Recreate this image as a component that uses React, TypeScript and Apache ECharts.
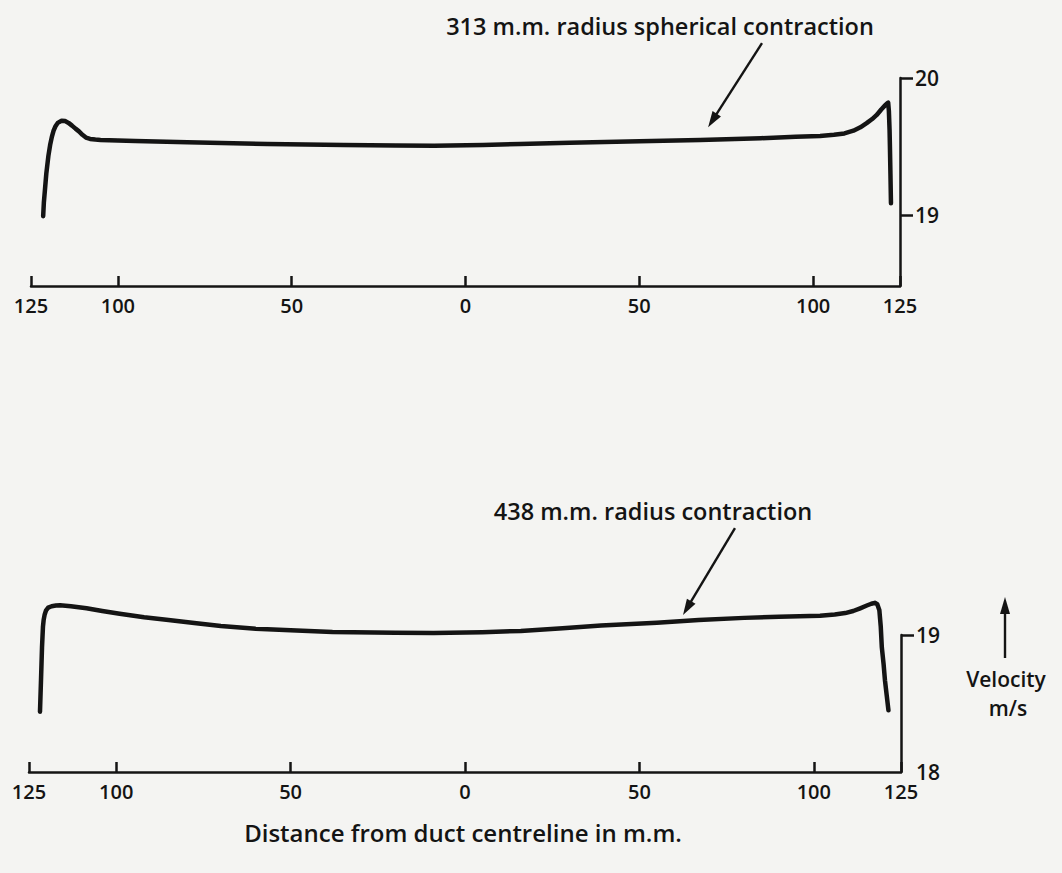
import React, { useEffect, useRef } from "react";
import * as echarts from "echarts";

const X_TICKS = [-125, -100, -50, 0, 50, 100, 125];
const TOP_Y_TICKS = [19, 20];
const BOTTOM_Y_TICKS = [18, 19];
const BOTTOM_Y_TICK_MARKS = [19];

const TOP_X = [-121.5, -121.3, -121.0, -120.6, -120.0, -119.5, -119.0, -118.5, -118.0, -117.3, -116.2, -115.2, -114.2, -113.2, -112.2, -111.2, -110.2, -109.2, -108.0, -106.5, -105, -95, -80, -57, -35, -20, -9, 5, 15.7, 30, 50, 67.5, 85, 95, 102, 106, 109, 111.6, 113.6, 115.4, 117, 118.3, 119.6, 120.7, 121.3, 121.6, 121.8, 122.0, 122.1, 122.25, 122.4];
const TOP_V = [18.99, 19.09, 19.18, 19.30, 19.43, 19.51, 19.57, 19.615, 19.645, 19.672, 19.688, 19.685, 19.672, 19.652, 19.63, 19.61, 19.585, 19.565, 19.555, 19.55, 19.547, 19.54, 19.53, 19.518, 19.51, 19.506, 19.504, 19.51, 19.518, 19.526, 19.537, 19.547, 19.56, 19.57, 19.577, 19.585, 19.595, 19.615, 19.64, 19.67, 19.70, 19.73, 19.77, 19.80, 19.815, 19.82, 19.76, 19.62, 19.5, 19.3, 19.085];

const BOT_X = [-121.85, -121.56, -121.27, -121.0, -120.8, -120.5, -120.1, -119.5, -118.5, -117.3, -116.1, -113, -108.5, -104, -99, -92, -85, -77, -70, -60, -50, -38, -20, -9, 5, 16, 28, 39, 55, 67, 80, 90, 101.8, 106, 109, 111.3, 113.3, 115.2, 116.5, 117.5, 118.2, 118.8, 119.2, 119.5, 120.0, 120.4, 120.9, 121.4];
const BOT_V = [18.44, 18.67, 18.91, 19.06, 19.11, 19.15, 19.18, 19.2, 19.21, 19.215, 19.217, 19.21, 19.195, 19.175, 19.155, 19.13, 19.11, 19.085, 19.065, 19.045, 19.035, 19.022, 19.017, 19.015, 19.02, 19.03, 19.05, 19.07, 19.09, 19.11, 19.125, 19.133, 19.14, 19.15, 19.16, 19.175, 19.195, 19.215, 19.228, 19.235, 19.225, 19.18, 19.06, 18.91, 18.79, 18.67, 18.56, 18.45];

const TOP_TITLE = "313 m.m. radius spherical contraction";
const BOT_TITLE = "438 m.m. radius contraction";
const X_TITLE = "Distance from duct centreline in m.m.";
const Y_TITLE = ["Velocity", "m/s"];
const TOP_ARROW = [[85.3, 20.255], [69.8, 19.64]];
const BOT_ARROW = [[77.4, 19.78], [62.5, 19.146]];

const INK = "#141414";
const BG = "#f4f4f2";
const FONT = "'Open Sans', 'DejaVu Sans', sans-serif";

function xAxisCfg(gridIndex: number) {
  return {
    type: "value",
    gridIndex,
    min: -125,
    max: 125,
    splitLine: { show: false },
    axisLine: { show: true, onZero: false, lineStyle: { color: INK, width: 2.5 } },
    axisTick: { show: true, inside: true, length: 10, customValues: X_TICKS, lineStyle: { color: INK, width: 2.5 } },
    axisLabel: {
      customValues: X_TICKS,
      formatter: (v: number) => String(Math.abs(v)),
      color: INK,
      fontFamily: FONT,
      fontWeight: 600,
      fontSize: 20,
      margin: 9,
    },
  };
}

function yAxisCfg(gridIndex: number, min: number, max: number, labels: number[], ticks: number[]) {
  return {
    type: "value",
    gridIndex,
    position: "right",
    min,
    max,
    splitLine: { show: false },
    axisLine: { show: true, onZero: false, lineStyle: { color: INK, width: 2.5 } },
    axisTick: { show: true, inside: false, length: 13, customValues: ticks, lineStyle: { color: INK, width: 2.5 } },
    axisLabel: {
      customValues: labels,
      color: INK,
      fontFamily: FONT,
      fontWeight: 600,
      fontSize: 21,
      margin: 15,
    },
  };
}

function zip(xs: number[], ys: number[]) {
  return xs.map((x, i) => [x, ys[i]]);
}

function arrow(p0: number[], p1: number[], head = 16, halfW = 5) {
  const dx = p1[0] - p0[0];
  const dy = p1[1] - p0[1];
  const L = Math.sqrt(dx * dx + dy * dy);
  const ux = dx / L, uy = dy / L;
  const bx = p1[0] - ux * head, by = p1[1] - uy * head;
  const nx = -uy, ny = ux;
  return [
    { type: "line", shape: { x1: p0[0], y1: p0[1], x2: bx + ux * 2, y2: by + uy * 2 }, style: { stroke: INK, lineWidth: 2.4 } },
    {
      type: "polygon",
      shape: { points: [[p1[0], p1[1]], [bx + nx * halfW, by + ny * halfW], [bx - nx * halfW, by - ny * halfW]] },
      style: { fill: INK },
    },
  ];
}

export default function App() {
  const ref = useRef<HTMLDivElement>(null);
  useEffect(() => {
    document.body.style.margin = "0";
    document.body.style.background = BG;
    const chart = echarts.init(ref.current!, null, { renderer: "svg" });
    const lineSeries = (idx: number, xs: number[], vs: number[]) => ({
      type: "line",
      xAxisIndex: idx,
      yAxisIndex: idx,
      data: zip(xs, vs),
      showSymbol: false,
      smooth: false,
      clip: false,
      lineStyle: { color: INK, width: 4.5, join: "round", cap: "round" },
    });
    chart.setOption({
      animation: false,
      backgroundColor: BG,
      grid: [
        { left: 31, top: 78, width: 869, height: 208 },
        { left: 29, top: 635, width: 872, height: 137 },
      ],
      xAxis: [xAxisCfg(0), xAxisCfg(1)],
      yAxis: [
        yAxisCfg(0, 18.48, 20, TOP_Y_TICKS, TOP_Y_TICKS),
        yAxisCfg(1, 18, 19, BOTTOM_Y_TICKS, BOTTOM_Y_TICK_MARKS),
      ],
      series: [lineSeries(0, TOP_X, TOP_V), lineSeries(1, BOT_X, BOT_V)],
    });

    const p = (g: number, v: number[]) => chart.convertToPixel({ xAxisIndex: g, yAxisIndex: g }, v) as number[];
    const ta0 = p(0, TOP_ARROW[0]), ta1 = p(0, TOP_ARROW[1]);
    const ba0 = p(1, BOT_ARROW[0]), ba1 = p(1, BOT_ARROW[1]);
    const label = (text: string, x: number, y: number, size = 23.5) => ({
      type: "text",
      x,
      y,
      style: {
        text,
        fill: INK,
        font: `600 ${size}px ${FONT}`,
        textAlign: "center",
        textVerticalAlign: "middle",
      },
    });
    chart.setOption({
      graphic: [
        label(TOP_TITLE, 660, 26),
        ...arrow(ta0, ta1),
        label(BOT_TITLE, 653, 511),
        ...arrow(ba0, ba1),
        ...arrow([1005, 658], [1005, 597], 17, 5),
        label(Y_TITLE[0], 1006, 679, 21),
        label(Y_TITLE[1], 1008, 708, 21),
        label(X_TITLE, 463, 832, 24),
      ],
    });
    return () => chart.dispose();
  }, []);
  return <div ref={ref} style={{ position: "fixed", left: 0, top: 0, width: 1062, height: 873 }} />;
}
